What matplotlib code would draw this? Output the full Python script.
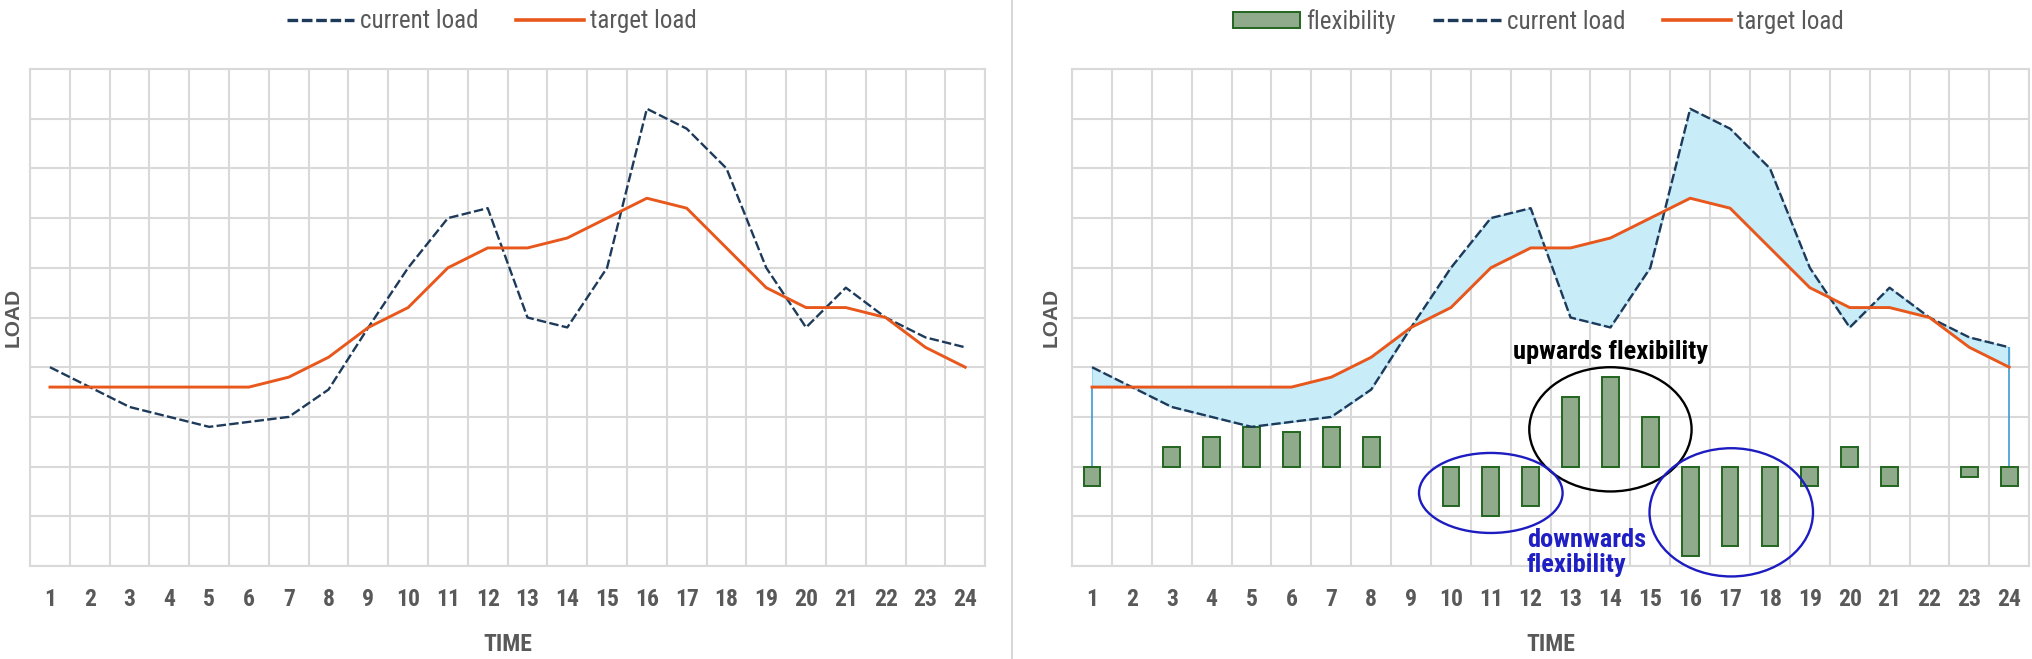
import matplotlib
matplotlib.use("Agg")
import matplotlib.pyplot as plt
from matplotlib import font_manager
from matplotlib.patches import Ellipse, Patch
from matplotlib.lines import Line2D

# data (load in grid units, 0..10)
hours = list(range(1, 25))
current_load = [4.0, 3.6, 3.2, 3.0, 2.8, 2.9, 3.0, 3.55, 4.8, 6.0, 7.0, 7.2,
                5.0, 4.8, 6.0, 9.2, 8.8, 8.0, 6.0, 4.8, 5.6, 5.0, 4.6, 4.4]
target_load = [3.6, 3.6, 3.6, 3.6, 3.6, 3.6, 3.8, 4.2, 4.8, 5.2, 6.0, 6.4,
               6.4, 6.6, 7.0, 7.4, 7.2, 6.4, 5.6, 5.2, 5.2, 5.0, 4.4, 4.0]
flexibility = [-0.4, 0.0, 0.4, 0.6, 0.8, 0.7, 0.8, 0.6, 0.0, -0.8, -1.0, -0.8,
               1.4, 1.8, 1.0, -1.8, -1.6, -1.6, -0.4, 0.4, -0.4, 0.0, -0.2, -0.4]
flex_base = 2.0

installed = {f.name for f in font_manager.fontManager.ttflist}
def pick(names):
    for n in names:
        if n in installed:
            return n
    return "DejaVu Sans"

narrow = pick(["Liberation Sans Narrow", "Roboto Condensed", "Roboto", "Open Sans"])
wide = pick(["Liberation Sans", "Arial", "DejaVu Sans"])

GRID = "#d9d9d9"
TXT = "#595959"
NAVY = "#1d3a5a"
ORANGE = "#e8581c"
DASH = (0, (4, 1.4))

fig = plt.figure(figsize=(20.32, 6.59), dpi=100)
ax1 = fig.add_axes([0.0148, 0.1411, 0.4700, 0.7542])
ax2 = fig.add_axes([0.5276, 0.1411, 0.4710, 0.7542])

for ax in (ax1, ax2):
    ax.set_xlim(0.5, 24.5)
    ax.set_ylim(0, 10)
    ax.set_xticks([h + 0.5 for h in range(0, 25)])
    ax.set_yticks(range(0, 11))
    ax.grid(True, color=GRID, linewidth=1.5, zorder=0)
    ax.set_axisbelow(True)
    ax.tick_params(length=0, labelleft=False, labelbottom=False)
    for s in ax.spines.values():
        s.set_color(GRID)
        s.set_linewidth(1.5)
    for h in hours:
        ax.text(h, -0.68, str(h), ha="center", va="center", fontsize=17,
                fontweight="bold", color=TXT, family=narrow)
    ax.text(12.5, -1.58, "TIME", ha="center", va="center", fontsize=17,
            fontweight="bold", color=TXT, family=narrow)

fig.text(0.0065, 0.519, "LOAD", rotation=90, ha="center", va="center",
         fontsize=15, fontweight="bold", color=TXT, family=wide)
fig.text(0.5175, 0.519, "LOAD", rotation=90, ha="center", va="center",
         fontsize=15, fontweight="bold", color=TXT, family=wide)

# left panel
ax1.plot(hours, current_load, color=NAVY, lw=1.7, ls=DASH, zorder=3)
ax1.plot(hours, target_load, color=ORANGE, lw=2.1, zorder=4)

# right panel
ax2.fill_between(hours, current_load, target_load, color="#c9ecf9",
                 edgecolor="#9fd6ee", lw=0.8, zorder=1)
ax2.vlines([hours[0]], flex_base, target_load[0], color="#3d9bd6", lw=1.2, zorder=1)
ax2.vlines([hours[-1]], flex_base, current_load[-1], color="#3d9bd6", lw=1.2, zorder=1)
bars = ax2.bar(hours, flexibility, bottom=flex_base, width=0.42, color="#8fab8c",
               edgecolor="#22661f", linewidth=1.4, zorder=2)
for patch, v in zip(bars, flexibility):
    if v == 0:
        patch.set_visible(False)
ax2.plot(hours, current_load, color=NAVY, lw=1.7, ls=DASH, zorder=3)
ax2.plot(hours, target_load, color=ORANGE, lw=2.1, zorder=4)

ax2.add_patch(Ellipse((14.0, 2.75), 4.07, 2.5, fill=False, ec="black",
                      lw=1.7, zorder=5, clip_on=False))
ax2.add_patch(Ellipse((11.0, 1.47), 3.6, 1.61, fill=False, ec="#1c1cc0",
                      lw=1.7, zorder=5, clip_on=False))
ax2.add_patch(Ellipse((17.03, 1.08), 4.1, 2.58, fill=False, ec="#1c1cc0",
                      lw=1.7, zorder=5, clip_on=False))
ax2.text(14.0, 4.3, "upwards flexibility", ha="center", va="center",
         fontsize=19, fontweight="bold", color="black", family=narrow, zorder=6)
ax2.text(11.9, 0.28, "downwards\nflexibility", ha="left", va="center",
         fontsize=19, fontweight="bold", color="#1f1fc4", family=narrow,
         linespacing=1.05, zorder=6, clip_on=False)

# legends
h_cur = Line2D([], [], color=NAVY, lw=2.4, ls=(0, (3.2, 1.1)))
h_tgt = Line2D([], [], color=ORANGE, lw=2.6)
h_flex = Patch(facecolor="#8fab8c", edgecolor="#22661f", lw=1.4)
leg_kw = dict(loc="center", frameon=False, ncol=3, handlelength=2.7,
              handleheight=0.6, handletextpad=0.25, columnspacing=1.5,
              prop={"family": narrow, "size": 18})
l1 = fig.legend([h_cur, h_tgt], ["current load", "target load"],
                bbox_to_anchor=(0.242, 0.968), **leg_kw)
l2 = fig.legend([h_flex, h_cur, h_tgt], ["flexibility", "current load", "target load"],
                bbox_to_anchor=(0.757, 0.968), **leg_kw)
for leg in (l1, l2):
    for t in leg.get_texts():
        t.set_color(TXT)

# separator between the panels
fig.add_artist(Line2D([0.498, 0.498], [0.0, 1.0], color="#d0d0d0", lw=1.2))

fig.savefig("out.png", dpi=100)
